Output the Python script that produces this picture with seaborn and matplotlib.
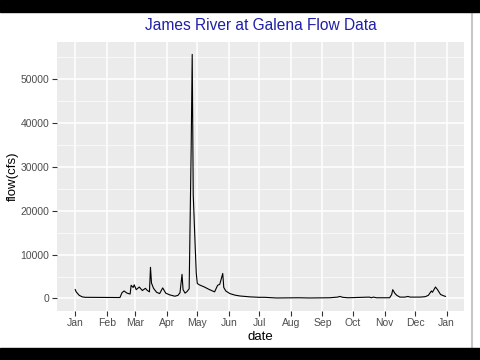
import numpy as np
import pandas as pd
import seaborn as sns
import matplotlib.pyplot as plt
from matplotlib.patches import Rectangle
from matplotlib.lines import Line2D
from matplotlib.ticker import MultipleLocator

# daily flow readings (cfs)
dates = ["2017-01-01", "2017-01-02", "2017-01-05", "2017-01-08", "2017-01-11",
         "2017-02-14", "2017-02-16", "2017-02-18", "2017-02-21", "2017-02-24",
         "2017-02-25", "2017-02-27", "2017-02-28", "2017-03-02", "2017-03-05",
         "2017-03-08", "2017-03-11", "2017-03-13", "2017-03-15", "2017-03-16",
         "2017-03-17", "2017-03-19", "2017-03-22", "2017-03-25", "2017-03-28",
         "2017-03-31", "2017-04-04", "2017-04-09", "2017-04-12", "2017-04-14",
         "2017-04-16", "2017-04-17", "2017-04-19", "2017-04-21", "2017-04-23",
         "2017-04-25", "2017-04-26", "2017-04-27", "2017-04-29", "2017-04-30",
         "2017-05-01", "2017-05-03", "2017-05-08", "2017-05-13", "2017-05-18",
         "2017-05-21", "2017-05-23", "2017-05-24", "2017-05-26", "2017-05-27",
         "2017-05-29", "2017-06-02", "2017-06-07", "2017-06-12", "2017-06-22",
         "2017-07-01", "2017-07-06", "2017-07-18", "2017-08-09", "2017-08-19",
         "2017-09-08", "2017-09-16", "2017-09-18", "2017-09-21", "2017-09-26",
         "2017-10-17", "2017-10-19", "2017-10-21", "2017-10-24", "2017-11-06",
         "2017-11-08", "2017-11-09", "2017-11-11", "2017-11-13", "2017-11-16",
         "2017-11-21", "2017-11-24", "2017-11-26", "2017-12-06", "2017-12-11",
         "2017-12-14", "2017-12-17", "2017-12-18", "2017-12-21", "2017-12-23",
         "2017-12-26", "2017-12-29", "2017-12-31"]
flow = [2050, 1500, 700, 350, 250,
        200, 1300, 1700, 1200, 1000,
        3000, 2500, 3100, 2000, 2600,
        1800, 2300, 1800, 1500, 7100,
        3500, 2300, 1400, 1100, 2400,
        1200, 800, 500, 700, 1300,
        5500, 2000, 1200, 1600, 2200,
        34700, 55700, 23700, 11400, 5700,
        3400, 3100, 2600, 2000, 1500,
        3000, 3200, 4000, 5700, 2500,
        1700, 1100, 750, 550, 350,
        250, 250, 100, 150, 100,
        150, 300, 450, 250, 150,
        300, 150, 300, 150, 150,
        900, 2000, 1200, 700, 300,
        300, 450, 300, 300, 400,
        700, 1700, 1400, 2600, 2000,
        900, 600, 450]

month_ticks = pd.date_range("2017-01-01", "2018-01-01", freq="MS")
month_labels = [d.strftime("%b") for d in month_ticks]

df = pd.DataFrame({"date": pd.to_datetime(dates), "flow": flow})

sns.set_theme(style="darkgrid", rc={
    "axes.facecolor": "#EBEBEB",
    "grid.color": "white",
    "xtick.bottom": True,
    "ytick.left": True,
    "xtick.color": "#333333",
    "ytick.color": "#333333",
})
plt.rcParams["font.family"] = ["Liberation Sans", "DejaVu Sans"]

fig = plt.figure(figsize=(4.8, 3.6), dpi=100)
fig.patch.set_facecolor("white")
ax = fig.add_axes([0.118, 0.137, 0.849, 0.746])

sns.lineplot(data=df, x="date", y="flow", color="black", linewidth=0.8, ax=ax)

span = df["date"].max() - df["date"].min()
ax.set_xlim(df["date"].min() - span * 0.05, df["date"].max() + span * 0.05)
ax.set_ylim(-2800, 58500)

ax.set_xticks(month_ticks)
ax.set_xticklabels(month_labels)
ax.yaxis.set_major_locator(MultipleLocator(10000))
ax.yaxis.set_minor_locator(MultipleLocator(5000))
ax.grid(which="major", color="white", linewidth=1.1)
ax.grid(which="minor", axis="y", color="white", linewidth=0.5)
ax.grid(which="minor", axis="x", visible=False)
ax.tick_params(axis="both", which="major", length=3.5, width=0.8, pad=2,
               labelsize=7.5, labelcolor="#4D4D4D")
ax.tick_params(axis="y", which="minor", length=0)
for s in ax.spines.values():
    s.set_visible(False)

ax.set_xlabel("date", fontsize=9.5, color="black", labelpad=2)
ax.set_ylabel("flow(cfs)", fontsize=9.5, color="black", labelpad=1)
ax.set_title("James River at Galena Flow Data", fontsize=11.2, color="#1f1fa8", pad=9)

# screenshot frame: black bars and the window edge
fig.add_artist(Rectangle((0, 1 - 12 / 360), 1, 12 / 360, transform=fig.transFigure,
                         color="black", zorder=10))
fig.add_artist(Rectangle((0, 0), 1, 12 / 360, transform=fig.transFigure,
                         color="black", zorder=10))
fig.add_artist(Line2D([471.5 / 480, 471.5 / 480], [12 / 360, 1 - 12 / 360],
                      transform=fig.transFigure, color="#c8c8c8", linewidth=1.5))

fig.savefig("out.png", dpi=100, facecolor="white")
